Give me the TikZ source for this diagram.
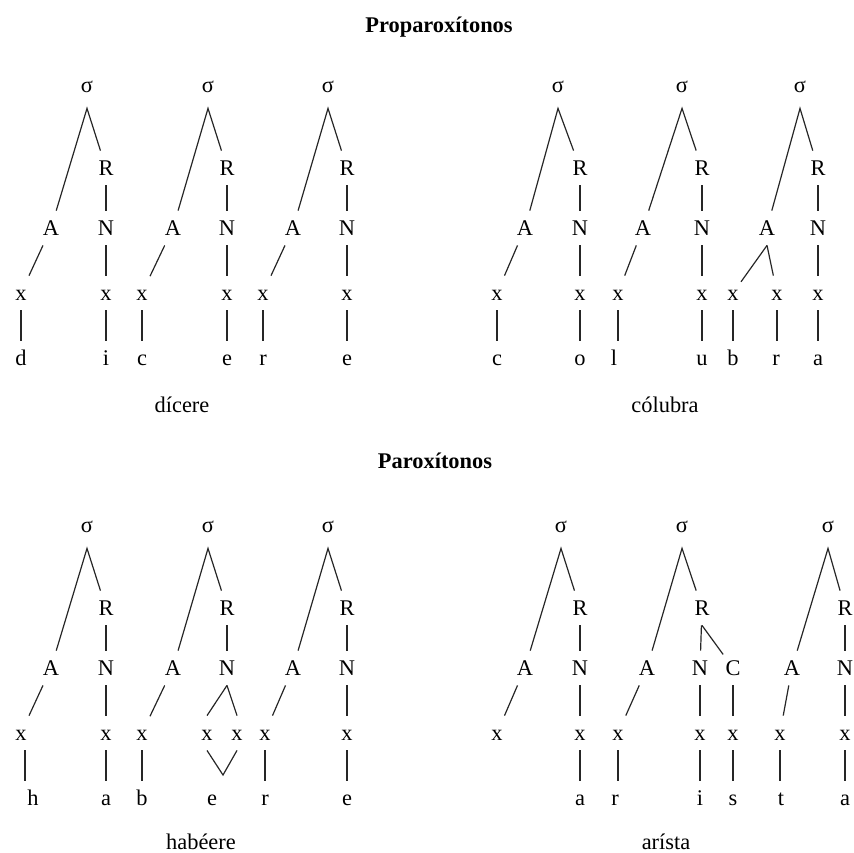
\documentclass[tikz,border=0pt]{standalone}
\usepackage{fontspec}
\setmainfont{Liberation Serif}

\tikzset{
  lab/.style={font=\fontsize{11.2}{13}\selectfont, text height=7pt, text depth=0pt,
              minimum height=17pt, inner xsep=1pt, inner ysep=0pt, anchor=base},
  br/.style={draw=black!85, line width=0.6pt},
  ttl/.style={font=\fontsize{11.2}{13}\selectfont\bfseries, anchor=base, inner sep=0pt},
  wrd/.style={font=\fontsize{11.2}{13}\selectfont, anchor=base, inner sep=0pt}
}

% syllable skeleton: sigma, rhyme, onset, nucleus  (#1 prefix, #2..#5 x positions)
\newcommand\syltree[5]{%
  \node[lab] (#1s) at (#2,92) {σ};
  \node[lab] (#1R) at (#3,175) {R};
  \node[lab] (#1A) at (#4,235) {A};
  \node[lab] (#1N) at (#5,235) {N};
  \coordinate (#1top) at ([yshift=-3pt]#1s.south);
  \draw[br] (#1A) -- (#1top) -- (#1R);
  \draw[br] (#1R) -- (#1N);
}
\newcommand\seg[2]{\draw[br] (#1) -- (#2);}
% vertical link from a skeletal slot down to its segment
\newcommand\vseg[2]{\draw[br] (#1.south) -- (#1.south |- #2.north);}

\begin{document}
\begin{tikzpicture}[x=0.5pt, y=-0.5pt]
\useasboundingbox (0,0) rectangle (854,852);

% ---------------- Proparoxítonos ----------------
\node[ttl] (t1) at (439,32) {Proparoxítonos};

% dícere
\syltree{a1}{87}{106}{51}{106}
\node[lab] (a1x1) at (21,300) {x};  \node[lab] (a1x2) at (106,300) {x};
\node[lab] (a1l1) at (21,365) {d};  \node[lab] (a1l2) at (106,365) {i};
\seg{a1A}{a1x1} \seg{a1N}{a1x2} \vseg{a1x1}{a1l1} \vseg{a1x2}{a1l2}

\syltree{a2}{208}{227}{173}{227}
\node[lab] (a2x1) at (142,300) {x}; \node[lab] (a2x2) at (227,300) {x};
\node[lab] (a2l1) at (142,365) {c}; \node[lab] (a2l2) at (227,365) {e};
\seg{a2A}{a2x1} \seg{a2N}{a2x2} \vseg{a2x1}{a2l1} \vseg{a2x2}{a2l2}

\syltree{a3}{328}{347}{293}{347}
\node[lab] (a3x1) at (263,300) {x}; \node[lab] (a3x2) at (347,300) {x};
\node[lab] (a3l1) at (263,365) {r}; \node[lab] (a3l2) at (347,365) {e};
\seg{a3A}{a3x1} \seg{a3N}{a3x2} \vseg{a3x1}{a3l1} \vseg{a3x2}{a3l2}

\node[wrd] (w1) at (182,412) {dícere};

% cólubra
\syltree{a4}{558}{580}{525}{580}
\node[lab] (a4x1) at (497,300) {x}; \node[lab] (a4x2) at (580,300) {x};
\node[lab] (a4l1) at (497,365) {c}; \node[lab] (a4l2) at (580,365) {o};
\seg{a4A}{a4x1} \seg{a4N}{a4x2} \vseg{a4x1}{a4l1} \vseg{a4x2}{a4l2}

\syltree{a5}{682}{702}{643}{702}
\node[lab] (a5x1) at (618,300) {x}; \node[lab] (a5x2) at (702,300) {x};
\node[lab] (a5l1) at (614,365) {l}; \node[lab] (a5l2) at (702,365) {u};
\seg{a5A}{a5x1} \seg{a5N}{a5x2} \vseg{a5x1}{a5l1} \vseg{a5x2}{a5l2}

\syltree{a6}{800}{818}{767}{818}
\node[lab] (a6xa) at (733,300) {x}; \node[lab] (a6xb) at (777,300) {x};
\node[lab] (a6x2) at (818,300) {x};
\node[lab] (a6la) at (733,365) {b}; \node[lab] (a6lb) at (776,365) {r};
\node[lab] (a6l2) at (818,365) {a};
\seg{a6A.south}{a6xa} \seg{a6A.south}{a6xb} \seg{a6N}{a6x2}
\vseg{a6xa}{a6la} \vseg{a6xb}{a6lb} \vseg{a6x2}{a6l2}

\node[wrd] (w2) at (665,412) {cólubra};

% ---------------- Paroxítonos ----------------
\node[ttl] (t2) at (435,468) {Paroxítonos};

\begin{scope}[yshift=-220pt]
% habéere
\syltree{b1}{87}{106}{51}{106}
\node[lab] (b1x1) at (21,300) {x};  \node[lab] (b1x2) at (106,300) {x};
\node[lab] (b1l1) at (33,365) {h};  \node[lab] (b1l2) at (106,365) {a};
\seg{b1A}{b1x1} \seg{b1N}{b1x2} \vseg{b1x2}{b1l2}
\draw[br] ([xshift=2pt]b1x1.south) -- ([xshift=2pt]b1x1.south |- b1l1.north);

\syltree{b2}{208}{227}{173}{227}
\node[lab] (b2x1) at (142,300) {x};
\node[lab] (b2xa) at (207,300) {x}; \node[lab] (b2xb) at (237,300) {x};
\node[lab] (b2l1) at (142,365) {b}; \node[lab] (b2l2) at (212,365) {e};
\coordinate (b2v) at (223,335);
\seg{b2A}{b2x1} \vseg{b2x1}{b2l1}
\seg{b2N.south}{b2xa.north} \seg{b2N.south}{b2xb.north}
\draw[br] (b2xa.south) -- (b2v) -- (b2xb.south);

\syltree{b3}{328}{347}{293}{347}
\node[lab] (b3x1) at (265,300) {x}; \node[lab] (b3x2) at (347,300) {x};
\node[lab] (b3l1) at (265,365) {r}; \node[lab] (b3l2) at (347,365) {e};
\seg{b3A}{b3x1} \seg{b3N}{b3x2} \vseg{b3x1}{b3l1} \vseg{b3x2}{b3l2}

\node[wrd] (w3) at (201,409) {habéere};

% arísta
\syltree{b4}{561}{580}{525}{580}
\node[lab] (b4x1) at (497,300) {x}; \node[lab] (b4x2) at (580,300) {x};
\node[lab] (b4l2) at (580,365) {a};
\seg{b4A}{b4x1} \seg{b4N}{b4x2} \vseg{b4x2}{b4l2}

\syltree{b5}{682}{702}{647}{700}
\node[lab] (b5C) at (733,235) {C};
\node[lab] (b5x1) at (618,300) {x}; \node[lab] (b5x2) at (700,300) {x};
\node[lab] (b5x3) at (733,300) {x};
\node[lab] (b5l1) at (615,365) {r}; \node[lab] (b5l2) at (700,365) {i};
\node[lab] (b5l3) at (733,365) {s};
\seg{b5R.south}{b5C}
\seg{b5A}{b5x1} \seg{b5N}{b5x2} \seg{b5C}{b5x3}
\vseg{b5x1}{b5l1} \vseg{b5x2}{b5l2} \vseg{b5x3}{b5l3}

\syltree{b6}{828}{845}{792}{845}
\node[lab] (b6x1) at (780,300) {x}; \node[lab] (b6x2) at (845,300) {x};
\node[lab] (b6l1) at (781,365) {t}; \node[lab] (b6l2) at (845,365) {a};
\seg{b6A}{b6x1} \seg{b6N}{b6x2} \vseg{b6x1}{b6l1} \vseg{b6x2}{b6l2}

\node[wrd] (w4) at (666,409) {arísta};
\end{scope}
\end{tikzpicture}
\end{document}
